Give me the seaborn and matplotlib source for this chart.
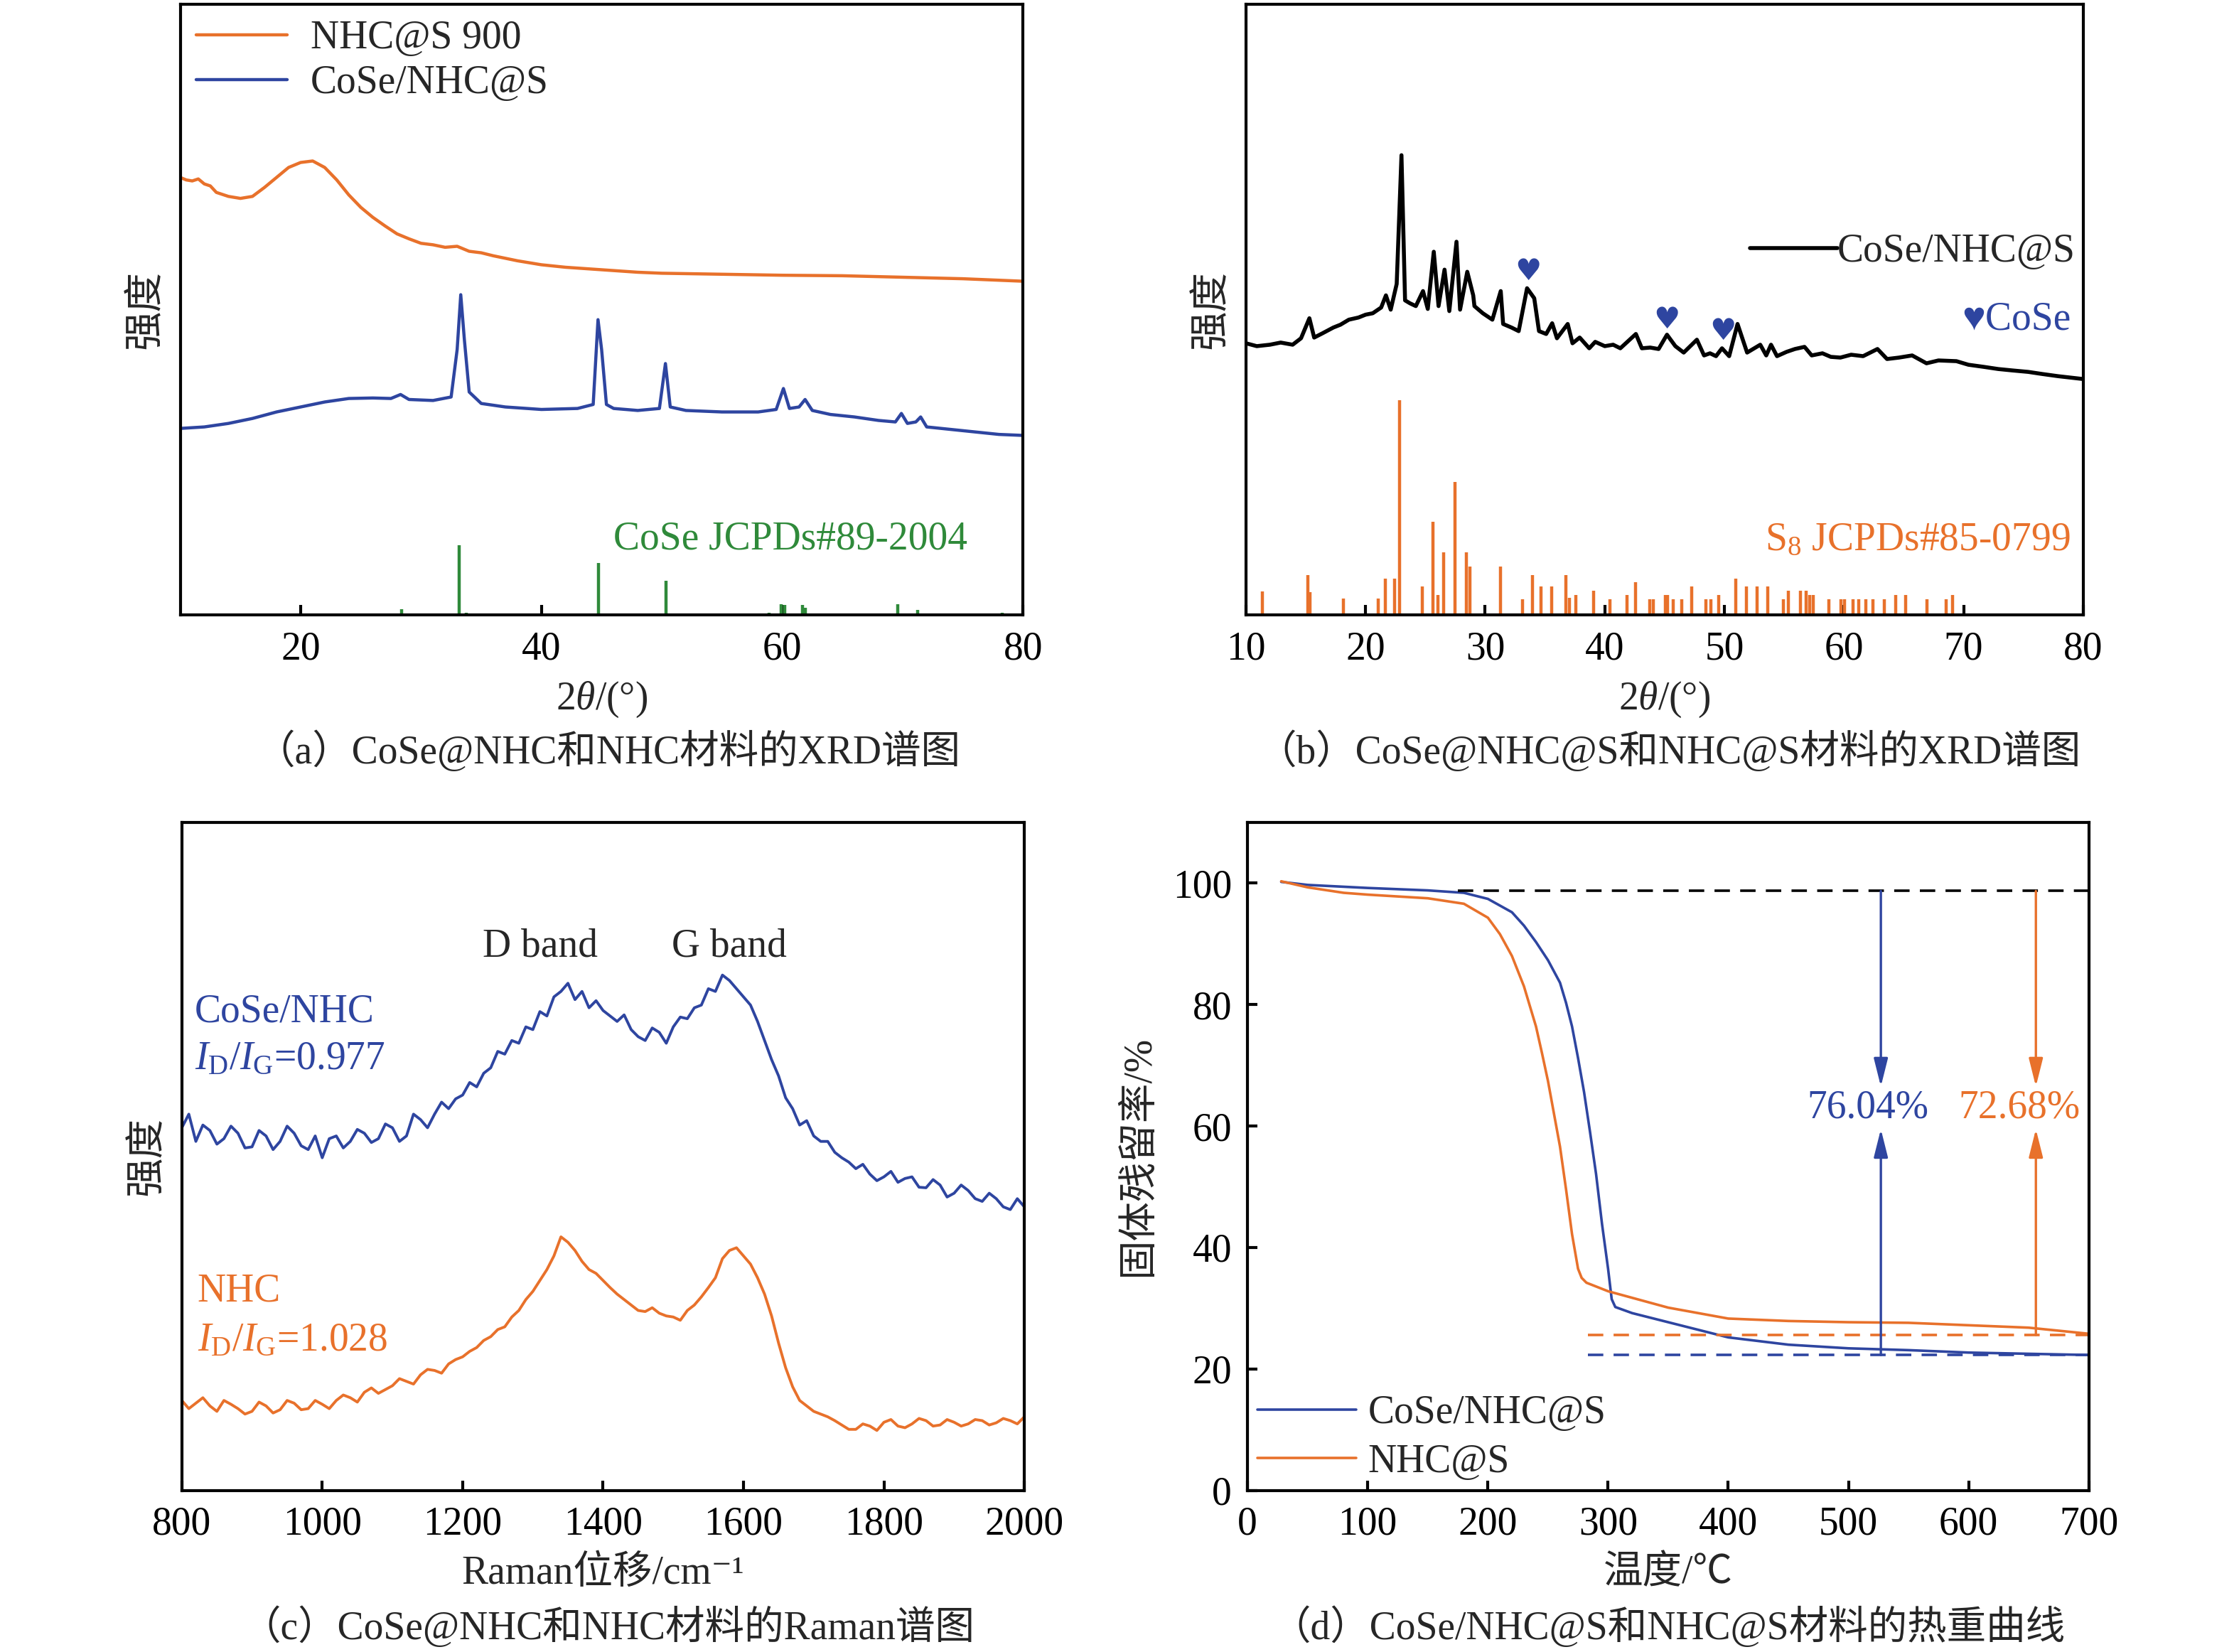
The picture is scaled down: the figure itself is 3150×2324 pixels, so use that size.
import numpy as np
import pandas as pd
import matplotlib
matplotlib.use("Agg")
import matplotlib.pyplot as plt
import seaborn as sns

# ---------------- data ----------------
# (a) XRD, CoSe@NHC vs NHC (intensity in arbitrary units)
xrd_a_orange_x = [10, 10.5, 11, 11.5, 12, 12.5, 13, 14, 15, 16, 17, 18, 19, 20, 21, 22, 23, 24, 25,
                  26, 27, 28, 29, 30, 31, 32, 33, 34, 35, 36, 38, 40, 42, 45, 48, 50, 55, 60, 65,
                  70, 75, 80]
xrd_a_orange_y = [877, 872, 870, 874, 864, 860, 847, 839, 835, 839, 857, 877, 897, 907, 910, 897,
                  872, 842, 817, 797, 780, 764, 754, 745, 742, 737, 739, 729, 726, 720, 710, 702,
                  697, 692, 687, 685, 683, 681, 680, 677, 674, 669]
xrd_a_blue_x = [10, 12, 14, 16, 18, 20, 22, 24, 26, 27.5, 28.3, 29, 31, 32.5, 33.0, 33.3, 33.6, 34,
                35, 37, 40, 43, 44.3, 44.7, 45.0, 45.4, 46, 48, 49.8, 50.3, 50.7, 52, 55, 58, 59.5,
                60.1, 60.6, 61.4, 61.9, 62.5, 64, 66, 68, 69.4, 69.9, 70.4, 71.1, 71.5, 72, 74, 76,
                78, 80]
xrd_a_blue_y = [374, 377, 384, 394, 407, 417, 427, 434, 435, 434, 442, 432, 430, 437, 532, 642, 552,
                447, 424, 417, 412, 414, 422, 592, 532, 422, 414, 410, 414, 504, 417, 410, 407, 407,
                412, 454, 414, 417, 432, 410, 402, 397, 390, 387, 404, 384, 387, 397, 377, 372, 367,
                362, 360]
cose_ref_pos = [28.4, 33.15, 33.75, 44.76, 50.36, 58.9, 59.94, 60.18, 61.67, 61.9, 69.58, 71.25, 78.3]
cose_ref_int = [12, 140, 5, 104, 69, 4, 22, 20, 20, 14, 22, 10, 4]

# (b) XRD, CoSe/NHC@S with S8 reference
xrd_b_x = [10.0, 10.9, 12.0, 12.9, 13.9, 14.6, 15.3, 15.7, 16.4, 17.3, 17.9, 18.6, 19.4, 20.0,
           20.6, 21.3, 21.7, 22.1, 22.6, 23.0, 23.3, 23.7, 24.2, 24.8, 25.2, 25.7, 26.1, 26.6, 27.0,
           27.6, 27.9, 28.5, 29.0, 29.1, 29.8, 30.6, 31.3, 31.5, 32.2, 32.8, 33.5, 34.1, 34.5, 35.1,
           35.6, 36.0, 36.9, 37.3, 37.9, 38.7, 39.2, 40.0, 40.7, 41.3, 42.6, 43.1, 43.8, 44.5, 45.2,
           45.9, 46.6, 47.7, 48.3, 48.8, 49.3, 49.8, 50.4, 51.1, 51.9, 52.4, 53.0, 53.5, 53.9, 54.4,
           55.2, 55.9, 56.7, 57.3, 58.2, 58.9, 59.7, 60.6, 61.6, 62.8, 63.6, 64.6, 65.7, 66.9, 67.9,
           69.4, 70.4, 71.7, 72.9, 74.1, 75.4, 76.6, 77.9, 80.0]
xrd_b_y = [190, 188, 189, 190.5, 189, 193.5, 207.5, 194, 197, 201, 203, 206.5, 208, 210,
           211, 215, 223.5, 213.5, 231.5, 321.5, 220, 218, 216, 226.5, 214, 254, 216, 241.5, 212.5,
           261, 213.5, 240, 223.5, 216, 211, 206.5, 226.5, 203.5, 201, 198.5, 228.5, 221.5, 198.5,
           196.5, 204, 193.5, 203.5, 190, 194, 186.5, 191, 188, 189, 186.5, 196.5, 186.5, 187,
           186, 196, 188, 183.5, 192.5, 181.5, 183, 181, 186.5, 181, 203.5, 183.5, 186, 189, 181.5,
           189, 181, 184, 186, 187.5, 181.5, 183, 180.5, 180, 182, 181, 186, 179, 180, 181.5, 176,
           178, 177.5, 175, 173.5, 172, 171, 170, 168.5, 167, 165]
s8_ref_pos = [11.35, 15.15, 15.35, 18.15, 21.05, 21.65, 22.45, 22.85, 24.75, 25.65, 26.05, 26.55,
              27.45, 28.45, 28.75, 31.25, 33.15, 33.95, 34.65, 35.55, 36.75, 37.05, 37.55, 39.05,
              40.45, 41.85, 42.55, 43.75, 44.05, 45.05, 45.25, 45.75, 46.45, 47.25, 48.45, 48.85,
              49.55, 50.95, 51.85, 52.75, 53.65, 54.95, 55.35, 56.35, 56.85, 57.15, 57.45, 58.75,
              59.75, 60.05, 60.75, 61.25, 61.85, 62.45, 63.35, 64.35, 65.15, 66.95, 68.55, 69.05]
s8_ref_int = [16.7, 27.7, 16, 11.3, 11.3, 25.5, 25.5, 150, 20, 65, 14, 44, 93, 44, 34,
              34, 11, 28, 20, 20, 28, 12, 14, 17, 11, 14, 23, 11, 11,
              14, 14, 11, 11, 20, 11, 11, 14, 25.5, 20, 20, 20, 11, 17,
              17, 17, 14, 14, 11, 11, 11, 11, 11, 11, 11, 11, 14, 14,
              11, 11, 14]
cose_marks_x = [33.6, 45.2, 49.9]
cose_marks_y = [240, 206.5, 198.5]

# (c) Raman
raman_x = list(range(800, 2001, 10))
raman_cose = [665, 690, 640, 670, 660, 635, 645, 668, 655, 628, 630, 660, 650, 625, 640, 668, 655,
              632, 625, 650, 610, 645, 650, 628, 640, 662, 655, 638, 645, 672, 665, 640, 650, 690,
              680, 665, 690, 712, 700, 718, 725, 748, 740, 765, 775, 805, 800, 825, 820, 850, 845,
              878, 870, 905, 915, 930, 900, 915, 885, 898, 880, 870, 860, 872, 845, 832, 825, 848,
              840, 820, 850, 868, 865, 885, 890, 920, 915, 945, 935, 920, 905, 890, 860, 825, 790,
              760, 720, 700, 670, 678, 650, 640, 640, 620, 610, 602, 590, 598, 580, 568, 575, 585,
              565, 572, 575, 556, 555, 570, 560, 538, 545, 560, 550, 535, 530, 545, 535, 520, 515,
              535, 520]
raman_nhc = [165, 150, 160, 170, 155, 145, 165, 158, 150, 140, 145, 162, 155, 142, 148, 165, 160,
             148, 150, 165, 158, 150, 165, 175, 170, 162, 180, 188, 178, 185, 192, 205, 200, 195,
             212, 222, 220, 215, 232, 240, 245, 255, 262, 275, 282, 295, 300, 318, 330, 350, 365,
             385, 405, 430, 465, 455, 440, 420, 405, 398, 385, 372, 360, 350, 340, 330, 328, 335,
             325, 320, 318, 312, 330, 340, 355, 372, 390, 425, 440, 445, 430, 415, 390, 360, 320,
             270, 225, 190, 165, 155, 145, 140, 135, 128, 120, 112, 112, 122, 118, 110, 125, 130,
             118, 115, 122, 132, 128, 118, 120, 130, 125, 118, 122, 130, 128, 120, 124, 132, 128,
             122, 135]

# (d) TGA
tga_blue_t = [28, 50, 100, 150, 180, 200, 220, 230, 240, 250, 260, 265, 270, 275, 280, 285, 290,
              295, 300, 303, 306, 320, 350, 400, 450, 500, 550, 600, 650, 700]
tga_blue_w = [100.2, 99.7, 99.2, 98.8, 98.4, 97.4, 95.2, 93.0, 90.3, 87.3, 83.6, 80.3, 76.4, 71.2,
              65.6, 59.0, 52.1, 43.8, 36.5, 31.5, 30.2, 29.2, 27.7, 25.2, 24.0, 23.4, 23.1, 22.7,
              22.5, 22.3]
tga_orange_t = [28, 50, 80, 100, 150, 180, 200, 210, 220, 230, 240, 245, 250, 255, 260, 265, 270,
                275, 278, 282, 300, 350, 400, 450, 500, 550, 600, 650, 700]
tga_orange_w = [100.3, 99.3, 98.4, 98.1, 97.5, 96.6, 94.3, 91.6, 88.0, 83.0, 76.4, 72.0, 67.4, 62.0,
                56.6, 49.6, 42.2, 36.5, 35.0, 34.2, 32.8, 30.1, 28.3, 27.9, 27.7, 27.6, 27.2, 26.8,
                25.8]
tga_top_level = 98.7
tga_blue_level = 22.3
tga_orange_level = 25.6
loss_labels = ["76.04%", "72.68%"]

# ---------------- style ----------------
ORANGE = "#E8712B"
BLUE = "#2E45A0"
GREEN = "#2F8A3A"
FS = 20

sns.set_theme(style="ticks")
plt.rcParams["font.family"] = ["Liberation Serif", "Noto Sans CJK SC", "DejaVu Sans"]
plt.rcParams["mathtext.fontset"] = "custom"
plt.rcParams["mathtext.rm"] = "Liberation Serif"
plt.rcParams["mathtext.it"] = "Liberation Serif:italic"
plt.rcParams["axes.linewidth"] = 1.5
plt.rcParams["axes.edgecolor"] = "black"

fig = plt.figure(figsize=(15.75, 11.62), dpi=200)
ax_a = fig.add_axes([0.0805, 0.6277, 0.3764, 0.3697])
ax_b = fig.add_axes([0.5565, 0.6277, 0.3739, 0.3697])
ax_c = fig.add_axes([0.0812, 0.0978, 0.3763, 0.4044])
ax_d = fig.add_axes([0.5572, 0.0978, 0.3757, 0.4044])


def style_axis(ax, yticks=False):
    ax.tick_params(axis="both", direction="in", length=5, width=1.5, labelsize=FS,
                   colors="black", pad=8)
    ax.tick_params(axis="y", left=yticks, labelleft=yticks)
    for s in ax.spines.values():
        s.set_visible(True)
        s.set_linewidth(1.5)
        s.set_color("black")


# (a)
sns.lineplot(x=xrd_a_orange_x, y=xrd_a_orange_y, ax=ax_a, color=ORANGE, lw=1.6,
             label="NHC@S 900", sort=False)
sns.lineplot(x=xrd_a_blue_x, y=xrd_a_blue_y, ax=ax_a, color=BLUE, lw=1.6,
             label="CoSe/NHC@S", sort=False)
ax_a.vlines(cose_ref_pos, 0, cose_ref_int, color=GREEN, lw=1.6)
ax_a.text(75.4, 152, "CoSe JCPDs#89-2004", color=GREEN, fontsize=FS, ha="right", va="center")
ax_a.set_xlim(10, 80)
ax_a.set_ylim(0, 1224)
ax_a.set_xticks([20, 40, 60, 80])
ax_a.set_xlabel(r"2$\theta$/(°)", fontsize=FS, labelpad=6)
ax_a.set_ylabel("强度", fontsize=FS, labelpad=8)
ax_a.legend(loc="upper left", frameon=False, fontsize=FS, handlelength=2.3,
            handletextpad=0.6, borderaxespad=0.3, labelspacing=0.2, borderpad=0.1)
style_axis(ax_a)

# (b)
sns.lineplot(x=xrd_b_x, y=xrd_b_y, ax=ax_b, color="black", lw=2.0, label="CoSe/NHC@S",
             sort=False)
ax_b.vlines(s8_ref_pos, 0, s8_ref_int, color=ORANGE, lw=1.6)
for mx, my in zip(cose_marks_x, cose_marks_y):
    ax_b.text(mx, my, "♥", color=BLUE, fontsize=15, ha="center", va="center",
              family="DejaVu Sans")
ax_b.text(79.0, 206.5, "♥CoSe", color=BLUE, fontsize=FS, ha="right", va="center")
ax_b.text(78.9, 52, r"S$_8$ JCPDs#85-0799", color=ORANGE, fontsize=FS, ha="right",
          va="center")
ax_b.set_xlim(10, 80)
ax_b.set_ylim(0, 427)
ax_b.set_xticks(np.arange(10, 81, 10))
ax_b.set_xlabel(r"2$\theta$/(°)", fontsize=FS, labelpad=6)
ax_b.set_ylabel("强度", fontsize=FS, labelpad=8)
ax_b.legend(loc="center right", bbox_to_anchor=(1.0, 0.595), frameon=False, fontsize=FS,
            handlelength=2.2, handletextpad=0.0, borderaxespad=0.1, borderpad=0.1)
style_axis(ax_b)

# (c)
sns.lineplot(x=raman_x, y=raman_cose, ax=ax_c, color=BLUE, lw=1.4, sort=False)
sns.lineplot(x=raman_x, y=raman_nhc, ax=ax_c, color=ORANGE, lw=1.4, sort=False)
ax_c.text(1310, 998, "D band", fontsize=FS, ha="center", va="center")
ax_c.text(1580, 998, "G band", fontsize=FS, ha="center", va="center")
ax_c.text(818, 878, "CoSe/NHC", color=BLUE, fontsize=FS, ha="left", va="center")
ax_c.text(818, 790, r"$I_\mathrm{D}/I_\mathrm{G}$=0.977", color=BLUE, fontsize=FS,
          ha="left", va="center")
ax_c.text(822, 365, "NHC", color=ORANGE, fontsize=FS, ha="left", va="center")
ax_c.text(822, 275, r"$I_\mathrm{D}/I_\mathrm{G}$=1.028", color=ORANGE, fontsize=FS,
          ha="left", va="center")
ax_c.set_xlim(800, 2000)
ax_c.set_ylim(0, 1225)
ax_c.set_xticks(np.arange(800, 2001, 200))
ax_c.set_xlabel("Raman位移/cm⁻¹", fontsize=FS, labelpad=6)
ax_c.set_ylabel("强度", fontsize=FS, labelpad=8)
style_axis(ax_c)

# (d)
sns.lineplot(x=tga_blue_t, y=tga_blue_w, ax=ax_d, color=BLUE, lw=1.3, label="CoSe/NHC@S",
             sort=False)
sns.lineplot(x=tga_orange_t, y=tga_orange_w, ax=ax_d, color=ORANGE, lw=1.3, label="NHC@S",
             sort=False)
ax_d.hlines(tga_top_level, 175, 700, color="black", lw=1.3, linestyles=(0, (6, 4)))
ax_d.hlines(tga_orange_level, 283, 700, color=ORANGE, lw=1.3, linestyles=(0, (6, 4)))
ax_d.hlines(tga_blue_level, 283, 700, color=BLUE, lw=1.3, linestyles=(0, (6, 4)))
arrow_kw = dict(arrowstyle="-|>,head_length=0.6,head_width=0.15", lw=1.2,
                shrinkA=0, shrinkB=0, mutation_scale=20)
for tx, low, col, lab, lx in [(527, tga_blue_level, BLUE, loss_labels[0], 516),
                              (656, tga_orange_level, ORANGE, loss_labels[1], 642)]:
    ax_d.annotate("", xy=(tx, 66.5), xytext=(tx, tga_top_level),
                  arrowprops=dict(color=col, **arrow_kw))
    ax_d.annotate("", xy=(tx, 59.5), xytext=(tx, low),
                  arrowprops=dict(color=col, **arrow_kw))
    ax_d.text(lx, 63, lab, color=col, fontsize=FS, ha="center", va="center")
ax_d.set_xlim(0, 700)
ax_d.set_ylim(0, 110)
ax_d.set_xticks(np.arange(0, 701, 100))
ax_d.set_yticks(np.arange(0, 101, 20))
ax_d.set_xlabel("温度/℃", fontsize=FS, labelpad=6)
ax_d.set_ylabel("固体残留率/%", fontsize=FS, labelpad=8)
ax_d.legend(loc="lower left", frameon=False, fontsize=FS, handlelength=2.5,
            handletextpad=0.3, borderaxespad=0.1, labelspacing=0.3, borderpad=0.15)
style_axis(ax_d, yticks=True)

# captions
fig.text(0.2716, 0.5455, "（a）CoSe@NHC和NHC材料的XRD谱图", fontsize=FS, ha="center", va="center")
fig.text(0.7455, 0.5455, "（b）CoSe@NHC@S和NHC@S材料的XRD谱图", fontsize=FS, ha="center",
         va="center")
fig.text(0.2716, 0.0150, "（c）CoSe@NHC和NHC材料的Raman谱图", fontsize=FS, ha="center",
         va="center")
fig.text(0.7450, 0.0150, "（d）CoSe/NHC@S和NHC@S材料的热重曲线", fontsize=FS, ha="center",
         va="center")

fig.savefig("out.png", dpi=200)
